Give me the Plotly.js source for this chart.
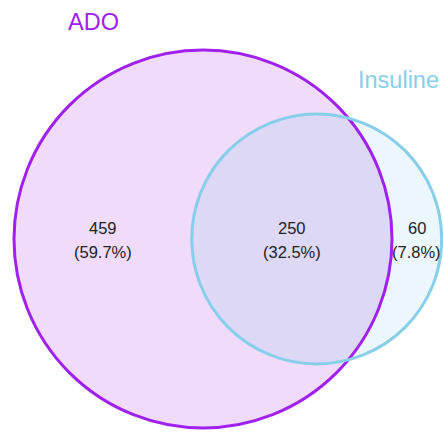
<!DOCTYPE html>
<html>
<head>
<meta charset="utf-8">
<script src="https://cdn.plot.ly/plotly-3.0.1.min.js"></script>
<style>html,body{margin:0;padding:0;background:#fff;}#chart{width:443px;height:433px;}</style>
</head>
<body>
<div id="chart"></div>
<script>
// ---- data ----
var setNames = ["ADO", "Insuline"];
var regionNames = ["ADO only", "ADO & Insuline", "Insuline only"];
var regionCounts = [459, 250, 60];

// ---- styles ----
var strokeColors = ["#a020f0", "#87ceeb"];
var fillColors = ["#f0dcfa", "#ecf6fd"];
var overlapFill = "#ddd8f5";
var W = 443, H = 433;

// ---- geometry from data (area-proportional) ----
var total = regionCounts[0] + regionCounts[1] + regionCounts[2];
var setA = regionCounts[0] + regionCounts[1];
var setB = regionCounts[1] + regionCounts[2];
var cx1 = 203, cy = 239, r1 = 189;
var r2 = r1 * Math.sqrt(setB / setA);
function lens(d) {
  var a1 = Math.acos(Math.max(-1, Math.min(1, (d*d + r1*r1 - r2*r2) / (2*d*r1))));
  var a2 = Math.acos(Math.max(-1, Math.min(1, (d*d + r2*r2 - r1*r1) / (2*d*r2))));
  var s = (-d + r1 + r2) * (d + r1 - r2) * (d - r1 + r2) * (d + r1 + r2);
  return r1*r1*a1 + r2*r2*a2 - 0.5*Math.sqrt(Math.max(0, s));
}
var target = Math.PI * r1 * r1 * regionCounts[1] / setA;
var lo = r1 - r2 + 1e-6, hi = r1 + r2 - 1e-6;
for (var k = 0; k < 80; k++) {
  var mid = (lo + hi) / 2;
  if (lens(mid) > target) lo = mid; else hi = mid;
}
var dist = (lo + hi) / 2;
var cx2 = cx1 + dist;

// lens polygon
var xi = (dist*dist + r1*r1 - r2*r2) / (2*dist);
var hh = Math.sqrt(r1*r1 - xi*xi);
var t1 = Math.atan2(hh, xi);
var p2 = Math.atan2(hh, xi - dist);
var lx = [], ly = [], N = 120, i, t;
for (i = 0; i <= N; i++) { t = -t1 + 2*t1*i/N; lx.push(cx1 + r1*Math.cos(t)); ly.push(cy + r1*Math.sin(t)); }
for (i = 0; i <= N; i++) { t = p2 + (2*Math.PI - 2*p2)*i/N; lx.push(cx2 + r2*Math.cos(t)); ly.push(cy - r2*Math.sin(t)); }

var traces = [{
  x: lx, y: ly, type: "scatter", mode: "lines", fill: "toself",
  fillcolor: overlapFill, line: {width: 0, color: overlapFill}, hoverinfo: "skip", showlegend: false
}];

var shapes = [
  {type: "circle", layer: "below", xref: "x", yref: "y", x0: cx1 - r1, x1: cx1 + r1, y0: cy - r1, y1: cy + r1, fillcolor: fillColors[0], line: {width: 0}},
  {type: "circle", layer: "below", xref: "x", yref: "y", x0: cx2 - r2, x1: cx2 + r2, y0: cy - r2, y1: cy + r2, fillcolor: fillColors[1], line: {width: 0}},
  {type: "circle", layer: "above", xref: "x", yref: "y", x0: cx1 - r1, x1: cx1 + r1, y0: cy - r1, y1: cy + r1, fillcolor: "rgba(0,0,0,0)", line: {width: 3, color: strokeColors[0]}},
  {type: "circle", layer: "above", xref: "x", yref: "y", x0: cx2 - r2, x1: cx2 + r2, y0: cy - r2, y1: cy + r2, fillcolor: "rgba(0,0,0,0)", line: {width: 3, color: strokeColors[1]}}
];

var labelX = [
  ((cx1 - r1) + (cx2 - r2)) / 2,
  ((cx2 - r2) + (cx1 + r1)) / 2,
  ((cx1 + r1) + (cx2 + r2)) / 2
];
var font = "Liberation Sans, Arial, sans-serif";
var annotations = [];
for (i = 0; i < 3; i++) {
  var pct = (100 * regionCounts[i] / total).toFixed(1);
  annotations.push({x: labelX[i], y: cy - 11, xref: "x", yref: "y", text: String(regionCounts[i]), showarrow: false, xanchor: "center", yanchor: "middle", font: {family: font, size: 16.5, color: "#222222"}});
  annotations.push({x: labelX[i], y: cy + 13, xref: "x", yref: "y", text: "(" + pct + "%)", showarrow: false, xanchor: "center", yanchor: "middle", font: {family: font, size: 16.5, color: "#222222"}});
}
annotations.push({x: 93, y: 22, xref: "x", yref: "y", text: setNames[0], showarrow: false, xanchor: "center", yanchor: "middle", font: {family: font, size: 23.5, color: strokeColors[0]}});
annotations.push({x: 398, y: 80, xref: "x", yref: "y", text: setNames[1], showarrow: false, xanchor: "center", yanchor: "middle", font: {family: font, size: 23.5, color: strokeColors[1]}});

var layout = {
  width: W, height: H, autosize: false,
  margin: {l: 0, r: 0, t: 0, b: 0, pad: 0},
  paper_bgcolor: "#ffffff", plot_bgcolor: "#ffffff",
  xaxis: {range: [0, W], visible: false, fixedrange: true},
  yaxis: {range: [H, 0], visible: false, fixedrange: true},
  showlegend: false,
  shapes: shapes,
  annotations: annotations
};
Plotly.newPlot("chart", traces, layout, {displayModeBar: false, staticPlot: true});
</script>
</body>
</html>
